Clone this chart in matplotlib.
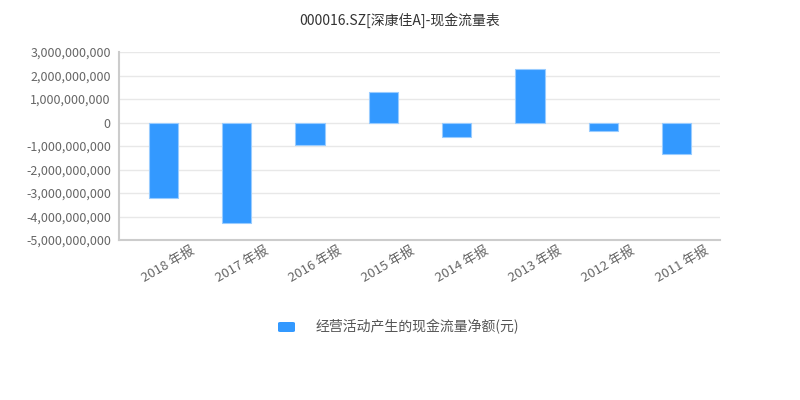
import matplotlib
matplotlib.use("Agg")
import matplotlib.pyplot as plt
from matplotlib.patches import FancyBboxPatch
from matplotlib.ticker import FuncFormatter
from matplotlib.transforms import ScaledTranslation

plt.rcParams['font.family'] = ['Noto Sans CJK SC', 'DejaVu Sans']

categories = ["2018 年报", "2017 年报", "2016 年报", "2015 年报",
              "2014 年报", "2013 年报", "2012 年报", "2011 年报"]
values = [-3.22e9, -4.29e9, -0.97e9, 1.29e9, -0.63e9, 2.29e9, -0.35e9, -1.35e9]
yticks = [3e9, 2e9, 1e9, 0, -1e9, -2e9, -3e9, -4e9, -5e9]
title = "000016.SZ[深康佳A]-现金流量表"
series_name = "经营活动产生的现金流量净额(元)"

fig = plt.figure(figsize=(8, 4), dpi=100)
ax = fig.add_axes([0.149, 0.40, 0.751, 0.47])

x = list(range(len(categories)))
ax.bar(x, values, width=0.4, color="#3399ff", edgecolor="#99ccff", linewidth=0.8, zorder=3)

ax.set_ylim(-5e9, 3e9)
ax.set_xlim(-0.603, 7.59)
ax.set_yticks(yticks)
ax.yaxis.set_major_formatter(FuncFormatter(lambda v, p: f"{int(round(v)):,}"))
ax.grid(axis='y', color="#e8e8e8", linewidth=1, zorder=0)
ax.set_xticks(x)
ax.set_xticklabels(categories, rotation=30, ha='center', va='center',
                   rotation_mode='anchor')
ax.tick_params(axis='y', length=0, labelsize=9, labelcolor="#666666", pad=6)
ax.tick_params(axis='x', length=0, labelsize=9.5, labelcolor="#666666", pad=0)
off = ScaledTranslation(5 / 100, -24 / 100, fig.dpi_scale_trans)
for lab in ax.get_xticklabels():
    lab.set_transform(lab.get_transform() + off)

for s in ['top', 'right']:
    ax.spines[s].set_visible(False)
ax.spines['left'].set_color("#cccccc")
ax.spines['bottom'].set_color("#cccccc")
ax.spines['left'].set_linewidth(1.5)
ax.spines['bottom'].set_linewidth(1.5)

fig.text(0.5, 0.95, title, ha='center', va='center', fontsize=10, color="#333333")

fig.patches.append(FancyBboxPatch((278 / 800, 1 - 332 / 400), 17 / 800, 10 / 400,
                                  boxstyle="round,pad=0,rounding_size=0.003",
                                  transform=fig.transFigure, facecolor="#3399ff",
                                  edgecolor="none"))
fig.text(316 / 800, 1 - 327 / 400, series_name, ha='left', va='center',
         fontsize=10, color="#555555")

fig.savefig("out.png", dpi=100)
